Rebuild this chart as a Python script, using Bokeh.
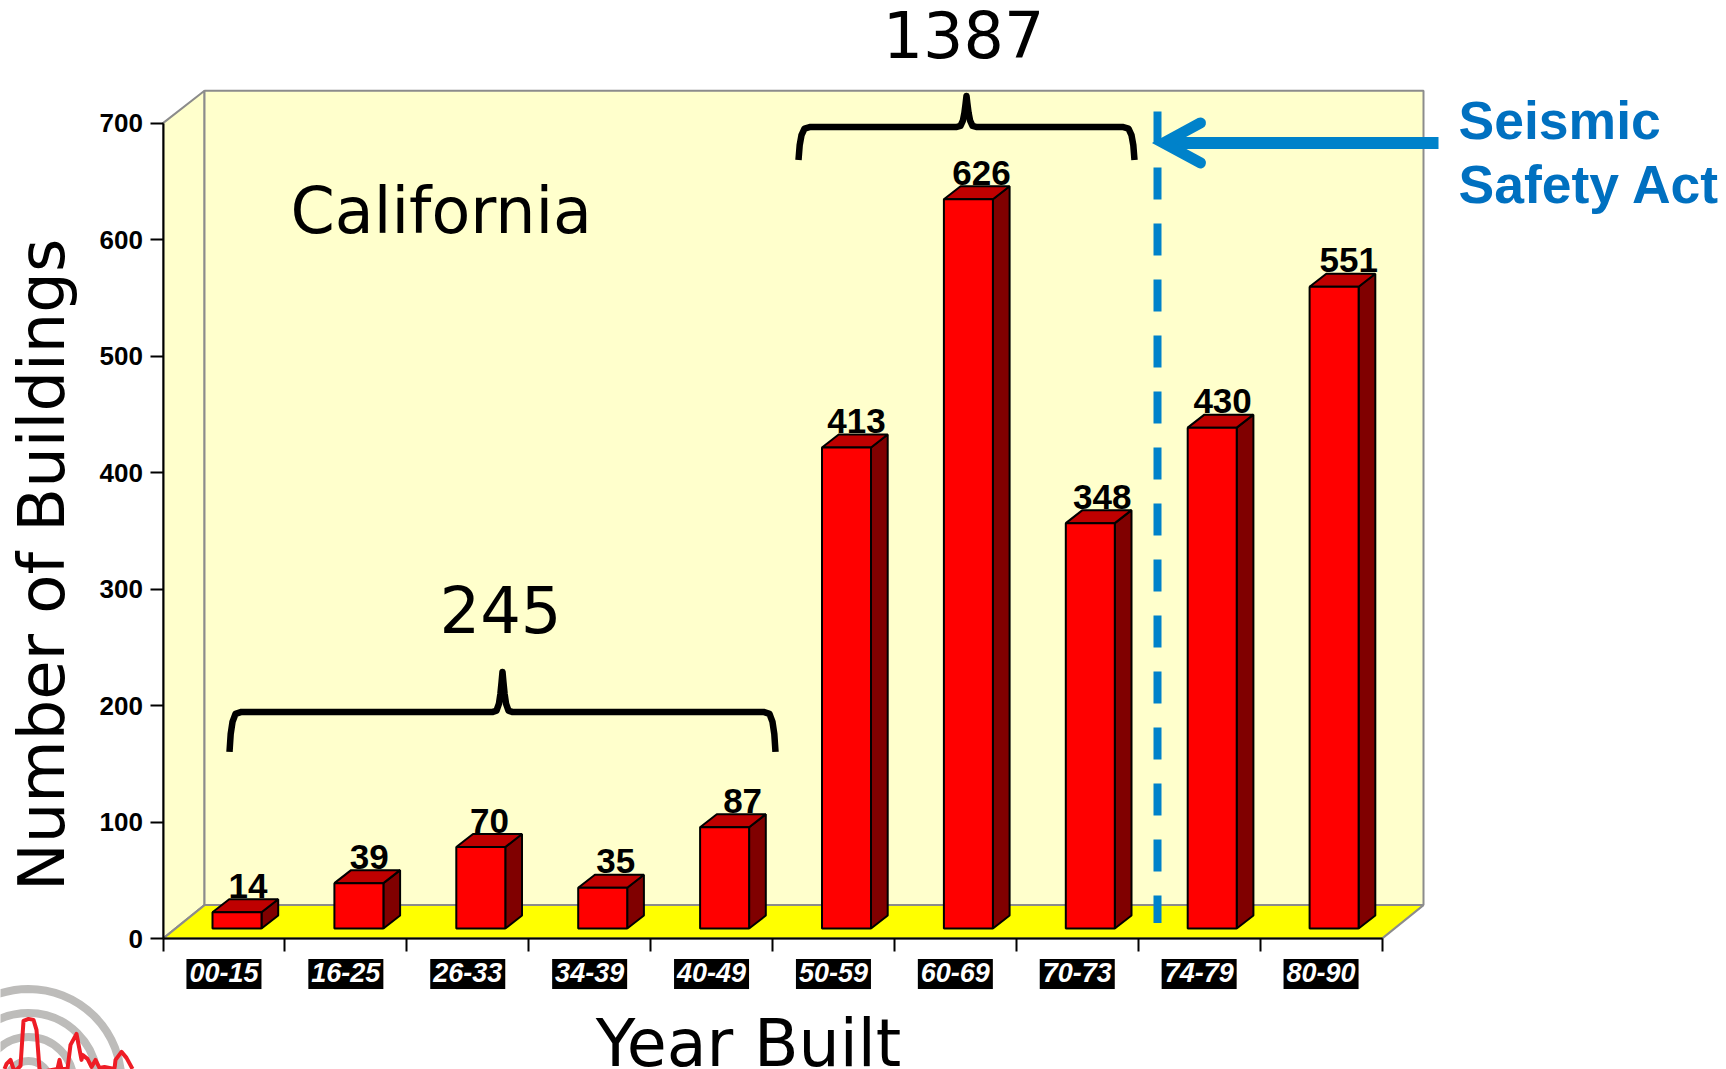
from bokeh.plotting import figure
from bokeh.models import LinearAxis, FixedTicker, Range1d
from bokeh.core.properties import value
from bokeh.embed import file_html
from bokeh.resources import INLINE
import numpy as np

categories = ["00-15", "16-25", "26-33", "34-39", "40-49", "50-59", "60-69", "70-73", "74-79", "80-90"]
buildings = [14, 39, 70, 35, 87, 413, 626, 348, 430, 551]
y_ticks = [0, 100, 200, 300, 400, 500, 600, 700]
group_totals = ["245", "1387"]

W, H = 1726, 1069
X0, Y0 = 163.5, 938.7      # pixel of the axes origin
UX, UY = 121.9, 1.165      # pixels per category / per building
BASE_K = 0.365             # baseline compensation, in em
SHIFT_X, SHIFT_Y = 1.0, 0.6  # whole-picture alignment

def X(px):
    return (np.asarray(px, dtype=float) - X0) / UX

def Y(py):
    return (Y0 - np.asarray(py, dtype=float)) / UY

p = figure(width=W, height=H, min_border=0, toolbar_location=None, output_backend="svg",
           x_range=Range1d(float(X(SHIFT_X)), float(X(W + SHIFT_X))),
           y_range=Range1d(float(Y(H + SHIFT_Y)), float(Y(SHIFT_Y))),
           x_axis_location=None, y_axis_location=None, margin=0,
           outline_line_color=None, background_fill_color="white", border_fill_color="white")
p.grid.visible = False

WALL, GREY = "#FFFFCC", "#8C8C8C"
# walls and floor of the 3D box
n = len(categories)
depth_x, depth_y = 41.5 / UX, 33.5 / UY
top = y_ticks[-1]
p.patch([0, depth_x, depth_x, 0], [0, depth_y, top + 27.7, top], fill_color=WALL, line_color=GREY, line_width=2)
p.patch([depth_x, n + depth_x, n + depth_x, depth_x], [depth_y, depth_y, top + 27.7, top + 27.7],
        fill_color=WALL, line_color=GREY, line_width=2)
p.patch([0, depth_x, n + depth_x, n], [0, depth_y, depth_y, 0], fill_color="#FFFF00", line_color=GREY, line_width=2)

# 3D bars
bar_off, bar_w = 49.5 / UX, 49.0 / UX
bar_dx, bar_dy, base = 16.7 / UX, 13.0 / UY, 8.6
front_x, front_y, top_x, top_y, side_x, side_y = [], [], [], [], [], []
for i, v in enumerate(buildings):
    l, r, b, t = i + bar_off, i + bar_off + bar_w, base, base + v
    front_x.append([l, r, r, l]); front_y.append([b, b, t, t])
    top_x.append([l, r, r + bar_dx, l + bar_dx]); top_y.append([t, t, t + bar_dy, t + bar_dy])
    side_x.append([r, r + bar_dx, r + bar_dx, r]); side_y.append([b, b + bar_dy, t + bar_dy, t])
p.patches(side_x, side_y, fill_color="#800000", line_color="black", line_width=2)
p.patches(top_x, top_y, fill_color="#BF0000", line_color="black", line_width=2)
p.patches(front_x, front_y, fill_color="#FF0000", line_color="black", line_width=2)

# value labels
LBL = 35
label_nudge_px = [-1, -1.6, -3.3, 1.1, 6, -2, 1, 0, -1.6, 2.7]
p.text([i + bar_off + bar_w / 2 + (12 + label_nudge_px[i]) / UX for i in range(n)],
       [base + v + bar_dy + 0.6 + BASE_K * LBL / UY for v in buildings],
       text=[str(v) for v in buildings], text_font=value("Liberation Sans"), text_font_style="bold",
       text_font_size=f"{LBL}px", text_align="center", text_baseline="alphabetic", text_color="black")

# black boxes behind category labels
p.quad(left=[i + 0.5 - 37.5 / UX for i in range(n)], right=[i + 0.5 + 37.5 / UX for i in range(n)],
       top=[float(Y(959))] * n, bottom=[float(Y(989))] * n, fill_color="black", line_color=None)

# axes
ya = LinearAxis(fixed_location=0, ticker=FixedTicker(ticks=y_ticks), bounds=(0, 700),
                axis_line_color="black", axis_line_width=2, major_tick_line_color="black", major_tick_line_width=2,
                major_tick_in=0, major_tick_out=13, minor_tick_line_color=None, major_label_standoff=7,
                major_label_text_font="Liberation Sans", major_label_text_font_style="bold",
                major_label_text_font_size="26px", major_label_text_color="black")
p.add_layout(ya, "left")
xa = LinearAxis(fixed_location=0, ticker=FixedTicker(ticks=list(range(n + 1))), bounds=(0, n),
                axis_line_color="black", axis_line_width=2, major_tick_line_color="black", major_tick_line_width=2,
                major_tick_in=0, major_tick_out=13, minor_tick_line_color=None, major_label_text_color=None,
                major_label_text_font_size="1px")
p.add_layout(xa, "below")
xl = LinearAxis(fixed_location=0, ticker=FixedTicker(ticks=[i + 0.5 for i in range(n)]),
                major_label_overrides={i + 0.5: c for i, c in enumerate(categories)},
                axis_line_color=None, major_tick_line_color=None, minor_tick_line_color=None,
                major_tick_in=0, major_tick_out=0, major_label_standoff=24,
                major_label_text_font="Liberation Sans", major_label_text_font_style="bold italic",
                major_label_text_font_size="27px", major_label_text_color="white")
p.add_layout(xl, "below")

# curly brackets
def brace(x1, x2, xm, bar, peak, end):
    r = 6 / UX
    xs = [x1, x1 + 0.2 * r, x1 + 0.5 * r, x1 + r, x1 + 2 * r,
          xm - 1.6 * r, xm - 1.0 * r, xm - 0.6 * r, xm - 0.35 * r, xm - 0.15 * r, xm,
          xm + 0.15 * r, xm + 0.35 * r, xm + 0.6 * r, xm + 1.0 * r, xm + 1.6 * r,
          x2 - 2 * r, x2 - r, x2 - 0.5 * r, x2 - 0.2 * r, x2]
    h = (bar - end)
    pk = (peak - bar)
    ys = [end, end + 0.45 * h, end + 0.75 * h, end + 0.95 * h, bar,
          bar, bar + 0.03 * pk, bar + 0.2 * pk, bar + 0.45 * pk, bar + 0.75 * pk, peak,
          bar + 0.75 * pk, bar + 0.45 * pk, bar + 0.2 * pk, bar + 0.03 * pk, bar,
          bar, end + 0.95 * h, end + 0.75 * h, end + 0.45 * h, end]
    p.line(xs, ys, line_color="black", line_width=6.5, line_join="round", line_cap="butt")

brace(X(230), X(776), X(503), Y(712), Y(672), Y(752))
brace(X(799), X(1135), X(967), Y(127), Y(96), Y(160))

# Seismic Safety Act marker
BLUE = "#0082CA"
p.line([X(1158)] * 2, [Y(111.7), Y(923)], line_color=BLUE, line_width=8, line_dash="32 24", line_cap="butt")
p.line([X(1164), X(1439)], [Y(143), Y(143)], line_color=BLUE, line_width=12, line_cap="butt")
p.line([X(1201), X(1164), X(1201)], [Y(123), Y(143), Y(163)], line_color=BLUE, line_width=11,
       line_cap="round", line_join="miter")

# texts
def txt(px, py, s, font, size, color="black", style="normal", align="left", angle=0.0):
    off = BASE_K * size
    if angle:
        px = px - off
    else:
        py = py - off
    p.text([X(px)], [Y(py)], text=[s], text_font=value(font), text_font_size=f"{size}px", text_font_style=style,
           text_color=color, text_align=align, text_baseline="alphabetic", angle=angle)

txt(964, 58, group_totals[1], "DejaVu Sans", 63.5, align="center")
txt(501, 633, group_totals[0], "DejaVu Sans", 64, align="center")
txt(291, 234, "California", "DejaVu Sans", 63.5)
txt(749, 1067, "Year Built", "DejaVu Sans", 65, align="center")
txt(66, 565, "Number of Buildings", "DejaVu Sans", 64, align="center", angle=np.pi / 2)
txt(1459, 140, "Seismic", "Liberation Sans", 53.5, color="#0070C0", style="bold")
txt(1459, 204, "Safety Act", "Liberation Sans", 53.5, color="#0070C0", style="bold")

# corner logo
ring_px = [97, 73, 49, 25]
ring_w = 8
p.scatter([X(29)] * 4, [Y(1082)] * 4, size=[2 * (r - ring_w / 2) for r in ring_px], marker="circle",
          fill_color=None, line_color="#BDBCBA", line_width=ring_w)
quake_x = [5, 7, 11, 14, 17, 21, 24, 29, 34, 37, 40, 42, 58, 60, 62, 68, 71, 77, 82, 83, 88, 92, 96, 100, 105, 115, 116, 122, 127, 133]
quake_y = [1069, 1064, 1060, 1069, 1070, 1066, 1021, 1019, 1020, 1030, 1069, 1072, 1069, 1060, 1069, 1069, 1045, 1034, 1060, 1055, 1059, 1067, 1060, 1068, 1067, 1069, 1060, 1052, 1058, 1069]
p.line(X(quake_x), Y(quake_y), line_color="#EE1C25", line_width=4, line_join="round")

open("out.html", "w").write(file_html(p, INLINE))
